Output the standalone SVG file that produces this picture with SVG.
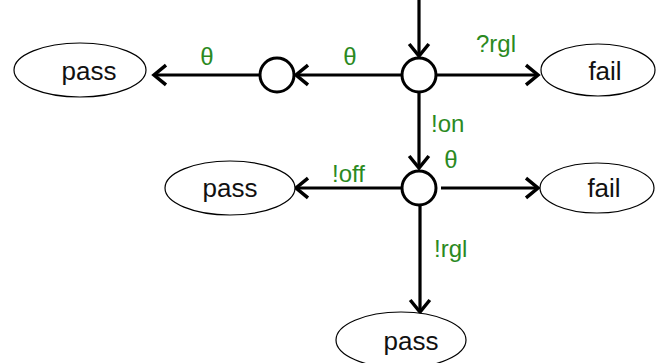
<svg xmlns="http://www.w3.org/2000/svg" width="660" height="363" viewBox="0 0 660 363">
  <defs>
    <marker id="arrow" markerUnits="userSpaceOnUse" markerWidth="20" markerHeight="24" viewBox="-14 -11 16 22" refX="0" refY="0" orient="auto">
      <polyline points="-11,-9 0,0 -11,9" fill="none" stroke="#000" stroke-width="3.2" stroke-linejoin="miter" stroke-linecap="butt"/>
    </marker>
  </defs>
  <style>
    .edge { stroke: #000; stroke-width: 3.2; fill: none; marker-end: url(#arrow); }
    .state { fill: #fff; stroke: #000; stroke-width: 3; }
    .leaf { fill: #fff; stroke: #000; stroke-width: 1.2; }
    .ntext { font-family: "Liberation Sans", Arial, sans-serif; font-size: 26px; fill: #111; text-anchor: middle; }
    .lbl { font-family: "Liberation Sans", Arial, sans-serif; font-size: 24px; fill: #2b8a1f; }
  </style>

  <g id="connectors">
    <line class="edge" x1="419" y1="0" x2="419" y2="56"/>
    <line class="edge" x1="402" y1="75" x2="296" y2="75"/>
    <line class="edge" x1="260" y1="75" x2="154" y2="75"/>
    <line class="edge" x1="436" y1="75" x2="538" y2="75"/>
    <line class="edge" x1="419" y1="93" x2="419" y2="168"/>
    <line class="edge" x1="402" y1="188" x2="296" y2="188"/>
    <line class="edge" x1="441" y1="188" x2="538" y2="188"/>
    <line class="edge" x1="420" y1="206" x2="420" y2="312"/>
    <text class="lbl" x="207" y="65" text-anchor="middle">θ</text>
    <text class="lbl" x="350" y="65" text-anchor="middle">θ</text>
    <text class="lbl" x="476" y="52">?rgl</text>
    <text class="lbl" x="431" y="132">!on</text>
    <text class="lbl" x="451" y="168" text-anchor="middle">θ</text>
    <text class="lbl" x="332" y="182">!off</text>
    <text class="lbl" x="434" y="257">!rgl</text>
  </g>

  <g id="s0">
    <circle class="state" cx="419" cy="75" r="17"/>
  </g>
  <g id="s1">
    <circle class="state" cx="277" cy="75" r="17"/>
  </g>
  <g id="s2">
    <circle class="state" cx="419" cy="188" r="17"/>
  </g>

  <g id="pass1">
    <ellipse class="leaf" cx="80" cy="70" rx="66" ry="27"/>
    <text class="ntext" x="89" y="80">pass</text>
  </g>
  <g id="fail1">
    <ellipse class="leaf" cx="598" cy="70" rx="57" ry="26"/>
    <text class="ntext" x="605" y="80">fail</text>
  </g>
  <g id="pass2">
    <ellipse class="leaf" cx="230" cy="188" rx="65" ry="27"/>
    <text class="ntext" x="230" y="197">pass</text>
  </g>
  <g id="fail2">
    <ellipse class="leaf" cx="597" cy="188" rx="57" ry="25"/>
    <text class="ntext" x="604" y="197">fail</text>
  </g>
  <g id="pass3">
    <ellipse class="leaf" cx="401" cy="340" rx="65" ry="28"/>
    <text class="ntext" x="411" y="350">pass</text>
  </g>
</svg>
